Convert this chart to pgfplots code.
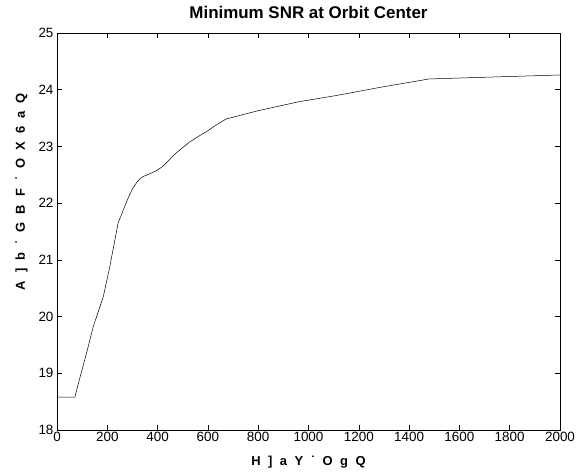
\documentclass[border=0pt]{standalone}
\usepackage{fontspec}
\setmainfont{Liberation Sans}
\usepackage{pgfplots}
\pgfplotsset{compat=1.18}
\newcommand{\ygap}{\hspace{8bp}}
\newcommand{\xgap}{\hspace{7.5bp}}

\begin{document}
\begin{tikzpicture}
% fixed canvas around the axis box
\useasboundingbox (-57bp,-44bp) rectangle (528bp,430bp);
\begin{axis}[
  scale only axis,
  width=503bp, height=397bp,
  xmin=0, xmax=2000, ymin=18, ymax=25,
  xtick={0,200,...,2000}, ytick={18,...,25},
  tick align=inside,
  major tick length=5bp,
  axis line style={line width=0.6bp},
  every tick/.style={line width=0.6bp, black},
  /pgf/number format/assume math mode=true,
  /pgf/number format/1000 sep={},
  tick label style={font=\fontsize{13.5}{15}\selectfont},
  xticklabel style={yshift=1bp},
  title={\bfseries Minimum SNR at Orbit Center},
  title style={font=\fontsize{17}{19}\selectfont, yshift=5bp},
  xlabel={\bfseries H\xgap]\xgap a\xgap Y\xgap˙\xgap O\xgap g\xgap Q},
  ylabel={\bfseries A\ygap]\ygap b\ygap˙\ygap G\ygap B\ygap F\ygap˙\ygap O\ygap X\ygap 6\ygap a\ygap Q},
  label style={font=\fontsize{13}{15}\selectfont},
  xlabel style={yshift=-7bp},
  ylabel style={at={(ticklabel cs:0.6)}, yshift=4bp},
]
\addplot[black, line width=0.5bp] coordinates {
  (0,18.58) (71,18.58) (91,18.92) (120,19.40) (144,19.82) (184,20.35)
  (210,20.88) (243,21.65) (262,21.86) (280,22.06) (300,22.25) (316,22.36)
  (330,22.43) (343,22.47) (370,22.52) (395,22.57) (415,22.63) (435,22.71)
  (470,22.87) (500,22.98) (528,23.08) (567,23.19) (594,23.26) (630,23.37)
  (673,23.485) (800,23.63) (964,23.79) (1100,23.89) (1163,23.94)
  (1282,24.04) (1361,24.10) (1480,24.19) (2000,24.26)
};
\end{axis}
\end{tikzpicture}
\end{document}
